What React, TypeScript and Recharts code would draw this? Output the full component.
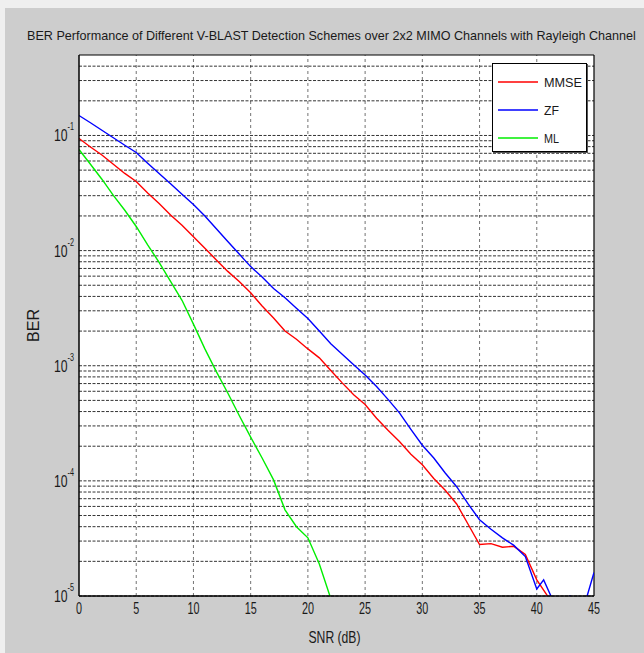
import React from "react";
import {
  LineChart,
  Line,
  XAxis,
  YAxis,
  ReferenceLine,
  Legend,
} from "recharts";

// ---- Data ----
const mmseSnr = [0, 1, 2, 3, 4, 5, 6, 7, 8, 9, 10, 11, 12, 13, 14, 15, 16, 17, 18, 19, 20, 21, 22, 23, 24, 25, 26, 27, 28, 29, 30, 31, 32, 33, 34, 35, 36, 37, 38, 39, 40, 41, 41.5];
const mmseBer = [0.0942, 0.0794, 0.0676, 0.0562, 0.0468, 0.0398, 0.0316, 0.0257, 0.0204, 0.0166, 0.0132, 0.0105, 0.0083, 0.0066, 0.0054, 0.0043, 0.0033, 0.0026, 0.002, 0.0017, 0.0014, 0.00117, 0.00091, 0.00071, 0.00056, 0.00046, 0.00035, 0.000275, 0.00022, 0.00017, 0.000138, 0.000105, 0.000083, 0.000063, 0.000042, 0.000028, 0.0000285, 0.0000265, 0.000027, 0.000023, 0.0000138, 0.0000098, 0.000009];

const zfSnr = [0, 1, 2, 3, 4, 5, 6, 7, 8, 9, 10, 11, 12, 13, 14, 15, 16, 17, 18, 19, 20, 21, 22, 23, 24, 25, 26, 27, 28, 29, 30, 31, 32, 33, 34, 35, 36, 37, 38, 39, 40, 40.6, 41.4, 42, 42.9, 43.5, 44.4, 45];
const zfBer = [0.149, 0.129, 0.111, 0.0955, 0.0822, 0.0711, 0.0575, 0.0468, 0.038, 0.0309, 0.0251, 0.02, 0.0155, 0.012, 0.00933, 0.00726, 0.00589, 0.00468, 0.00389, 0.00316, 0.00257, 0.002, 0.00155, 0.00126, 0.00102, 0.00083, 0.00066, 0.00051, 0.00039, 0.00028, 0.000204, 0.000158, 0.000117, 0.000089, 0.000063, 0.000046, 0.000038, 0.000032, 0.0000275, 0.000022, 0.0000115, 0.0000138, 0.0000092, 0.0000088, 0.00001, 0.0000088, 0.00001, 0.000016];

const mlSnr = [0, 1, 2, 3, 4, 5, 6, 7, 8, 9, 10, 11, 12, 13, 14, 15, 16, 17, 18, 19, 20, 21, 22];
const mlBer = [0.0755, 0.0562, 0.0417, 0.0302, 0.0224, 0.0162, 0.0112, 0.0079, 0.0054, 0.0037, 0.0023, 0.0014, 0.00089, 0.00058, 0.00037, 0.00024, 0.000158, 0.000102, 0.000056, 0.00004, 0.000032, 0.000019, 0.0000095];

const xTicks = [0, 5, 10, 15, 20, 25, 30, 35, 40, 45];
const yTicks = [1e-5, 1e-4, 1e-3, 1e-2, 1e-1];
const yTickExponents = ["-5", "-4", "-3", "-2", "-1"];
const minorMultipliers = [1, 2, 3, 4, 5, 6, 7, 8, 9];
const yDomainTop = 0.5;
const legendOrder = ["MMSE", "ZF", "ML"];

const titleText =
  "BER Performance of Different V-BLAST Detection Schemes over 2x2 MIMO Channels with Rayleigh Channel";

const FONT = "'Liberation Sans', Arial, sans-serif";
const INK = "#1a1a1a";

const toRows = (xs: number[], ys: number[]) => xs.map((snr, i) => ({ snr, ber: ys[i] }));
const mmseData = toRows(mmseSnr, mmseBer);
const zfData = toRows(zfSnr, zfBer);
const mlData = toRows(mlSnr, mlBer);

const gridValues: number[] = [];
yTicks.forEach((d) =>
  minorMultipliers.forEach((m) => {
    const v = d * m;
    if (v < yDomainTop * 0.999) gridValues.push(v);
  })
);

// narrow, tall text similar to the squeezed MATLAB rendering
const Narrow = ({ x, y, children, size, perChar, anchor = "start", rotate = 0 }: any) => {
  const s = String(children);
  return (
    <text
      x={x}
      y={y}
      fontFamily={FONT}
      fontSize={size}
      fill={INK}
      textAnchor={anchor}
      textLength={s.length * perChar}
      lengthAdjust="spacingAndGlyphs"
      transform={rotate ? `rotate(${rotate} ${x} ${y})` : undefined}
    >
      {s}
    </text>
  );
};

const XTick = (props: any) => {
  const { x, y, payload } = props;
  return (
    <Narrow x={x} y={y + 12} size={16} perChar={6} anchor="middle">
      {payload.value}
    </Narrow>
  );
};

const YTick = (props: any) => {
  const { x, y, payload } = props;
  const idx = yTicks.indexOf(payload.value);
  const exp = idx >= 0 ? yTickExponents[idx] : "";
  return (
    <text
      x={x - 13}
      y={y + 6}
      fontFamily={FONT}
      fontSize={17}
      fill={INK}
      textAnchor="start"
      textLength={20}
      lengthAdjust="spacingAndGlyphs"
    >
      10
      <tspan dy={-11} fontSize={10}>
        {exp}
      </tspan>
    </text>
  );
};

const YLabel = (props: any) => {
  const vb = props.viewBox || {};
  const cx = vb.x + 34;
  const cy = vb.y + vb.height / 2;
  return (
    <Narrow x={cx} y={cy} size={16} perChar={11} anchor="middle" rotate={-90}>
      BER
    </Narrow>
  );
};

const XLabel = (props: any) => {
  const vb = props.viewBox || {};
  const cx = vb.x + vb.width / 2;
  return (
    <Narrow x={cx - 2} y={vb.y + 47} size={17} perChar={6.5} anchor="middle">
      SNR (dB)
    </Narrow>
  );
};

const renderLegend = (props: any) => {
  const payload = [...(props.payload || [])].sort(
    (a: any, b: any) => legendOrder.indexOf(a.value) - legendOrder.indexOf(b.value)
  );
  return (
    <div
      style={{
        width: 95,
        height: 89,
        background: "#fff",
        border: "1px solid #000",
        boxShadow: "1px 1px 0 #555",
        boxSizing: "border-box",
        paddingTop: 4,
      }}
    >
      {payload.map((e: any) => (
        <div key={e.value} style={{ height: 28 }}>
          <svg width={93} height={28} style={{ display: "block", overflow: "visible" }}>
            <line x1={5} y1={14} x2={45} y2={14} stroke={e.color} strokeWidth={1.5} />
            <Narrow x={51} y={19} size={13} perChar={e.value.length > 2 ? 9.5 : 7.5}>
              {e.value}
            </Narrow>
          </svg>
        </div>
      ))}
    </div>
  );
};

export default function App() {
  return (
    <div
      style={{
        position: "absolute",
        left: 0,
        top: 0,
        width: 644,
        height: 653,
        background: "#efefef",
        overflow: "hidden",
      }}
    >
      <div
        style={{
          position: "absolute",
          left: 5,
          top: 8,
          width: 639,
          height: 645,
          background: "#cdcdcd",
        }}
      />
      <div
        style={{
          position: "absolute",
          left: 79,
          top: 55,
          width: 515,
          height: 541,
          background: "#fff",
        }}
      />
      <svg
        width={644}
        height={50}
        style={{ position: "absolute", left: 0, top: 0, display: "block" }}
      >
        <Narrow x={27} y={40} size={13} perChar={6.15}>
          {titleText}
        </Narrow>
      </svg>
      <div style={{ position: "absolute", left: 0, top: 0 }}>
        <LineChart
          width={644}
          height={653}
          margin={{ top: 55, right: 50, bottom: 7, left: 5 }}
        >
          <XAxis
            dataKey="snr"
            type="number"
            domain={[0, 45]}
            ticks={xTicks}
            allowDataOverflow
            height={50}
            tickSize={0}
            tickMargin={6}
            tick={<XTick />}
            axisLine={{ stroke: "#000", strokeWidth: 1.5 }}
            label={<XLabel />}
          />
          <YAxis
            dataKey="ber"
            scale="log"
            domain={[1e-5, yDomainTop]}
            ticks={yTicks}
            allowDataOverflow
            width={74}
            tickSize={0}
            tickMargin={12}
            tick={<YTick />}
            axisLine={{ stroke: "#000", strokeWidth: 1.5 }}
            label={<YLabel />}
          />
          {xTicks.slice(1, -1).map((v) => (
            <ReferenceLine
              key={"vx" + v}
              x={v}
              stroke="#444"
              strokeOpacity={0.75}
              strokeDasharray="3 3"
            />
          ))}
          {gridValues.map((v) => (
            <ReferenceLine
              key={"hy" + v}
              y={v}
              stroke="#000"
              strokeOpacity={0.8}
              strokeDasharray="3 1.5"
            />
          ))}
          <ReferenceLine y={yDomainTop} stroke="#000" strokeWidth={1.2} ifOverflow="extendDomain" />
          <ReferenceLine x={45} stroke="#000" strokeWidth={1.2} />
          <Legend
            layout="horizontal"
            verticalAlign="middle"
            align="center"
            content={renderLegend}
            wrapperStyle={{ position: "absolute", left: 492, top: 63, width: 95, height: 89 }}
          />
          <Line
            data={mmseData}
            dataKey="ber"
            name="MMSE"
            stroke="#ff0000"
            strokeWidth={1.4}
            dot={false}
            isAnimationActive={false}
          />
          <Line
            data={zfData}
            dataKey="ber"
            name="ZF"
            stroke="#0000ff"
            strokeWidth={1.4}
            dot={false}
            isAnimationActive={false}
          />
          <Line
            data={mlData}
            dataKey="ber"
            name="ML"
            stroke="#00ee00"
            strokeWidth={1.4}
            dot={false}
            isAnimationActive={false}
          />
        </LineChart>
      </div>
    </div>
  );
}
